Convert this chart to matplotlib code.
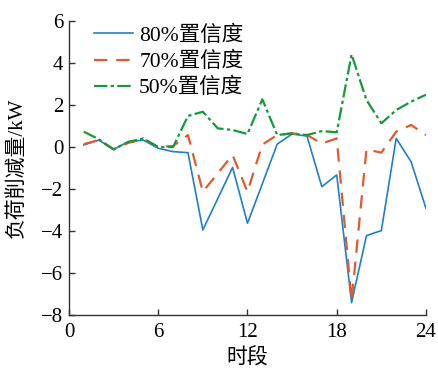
import matplotlib
matplotlib.use('Agg')
import matplotlib.pyplot as plt

plt.rcParams['font.family'] = ['Liberation Serif', 'Noto Sans CJK SC']

# load shedding per period for each confidence level
hours = list(range(1, 25))
shed_80 = [0.10, 0.33, -0.11, 0.25, 0.33, -0.06, -0.22, -0.27, -3.95, -2.46, -0.97, -3.63,
           -1.75, 0.14, 0.62, 0.52, -1.89, -1.33, -7.41, -4.22, -3.98, 0.41, -0.70, -2.92]
shed_70 = [0.14, 0.33, -0.11, 0.20, 0.37, 0.00, 0.05, 0.57, -2.13, -1.25, -0.38, -2.13,
           0.12, 0.57, 0.65, 0.57, 0.17, 0.41, -7.29, -0.11, -0.27, 0.73, 1.05, 0.57]
shed_50 = [0.73, 0.37, -0.11, 0.25, 0.41, 0.00, 0.00, 1.48, 1.68, 0.89, 0.81, 0.62,
           2.27, 0.57, 0.65, 0.57, 0.76, 0.70, 4.41, 2.24, 1.13, 1.76, 2.16, 2.49]
labels = ['80%置信度', '70%置信度', '50%置信度']

fig = plt.figure(figsize=(4.38, 3.70), dpi=100)
ax = fig.add_axes([0.1575, 0.1486, 0.815, 0.7946])

ax.plot(hours, shed_80, '-', color='#1f7fc8', lw=1.2, label=labels[0])
ax.plot(hours, shed_70, '--', color='#e05a2b', lw=1.6, dashes=(6, 4), label=labels[1])
ax.plot(hours, shed_50, '-.', color='#14993c', lw=1.6, dashes=(6, 1.5, 1.5, 1.5), label=labels[2])

ax.set_xlim(0, 24)
ax.set_ylim(-8, 6)
ax.set_xticks([0, 6, 12, 18, 24])
ax.set_yticks(range(-8, 7, 2))
ax.set_yticklabels(['\u2212' + str(-v) if v < 0 else str(v) for v in range(-8, 7, 2)])
ax.tick_params(direction='in', length=4, width=1, labelsize=15, colors='#333333')
ax.tick_params(axis='x', pad=6)
ax.tick_params(axis='y', pad=4)
for lab in ax.get_xticklabels() + ax.get_yticklabels():
    lab.set_color('black')
ax.spines['top'].set_visible(False)
ax.spines['right'].set_visible(False)
for s in ('left', 'bottom'):
    ax.spines[s].set_color('#333333')
    ax.spines[s].set_linewidth(1.0)

ax.set_xlabel('时段', fontsize=15, labelpad=4)
ax.set_ylabel('负荷削减量/kW', fontsize=15, labelpad=10)

ax.legend(loc='upper left', frameon=False, fontsize=15.5, handlelength=1.8,
          handletextpad=0.3, borderaxespad=0, borderpad=0, labelspacing=0.28,
          bbox_to_anchor=(0.07, 0.985))

fig.savefig('out.png', dpi=100)
